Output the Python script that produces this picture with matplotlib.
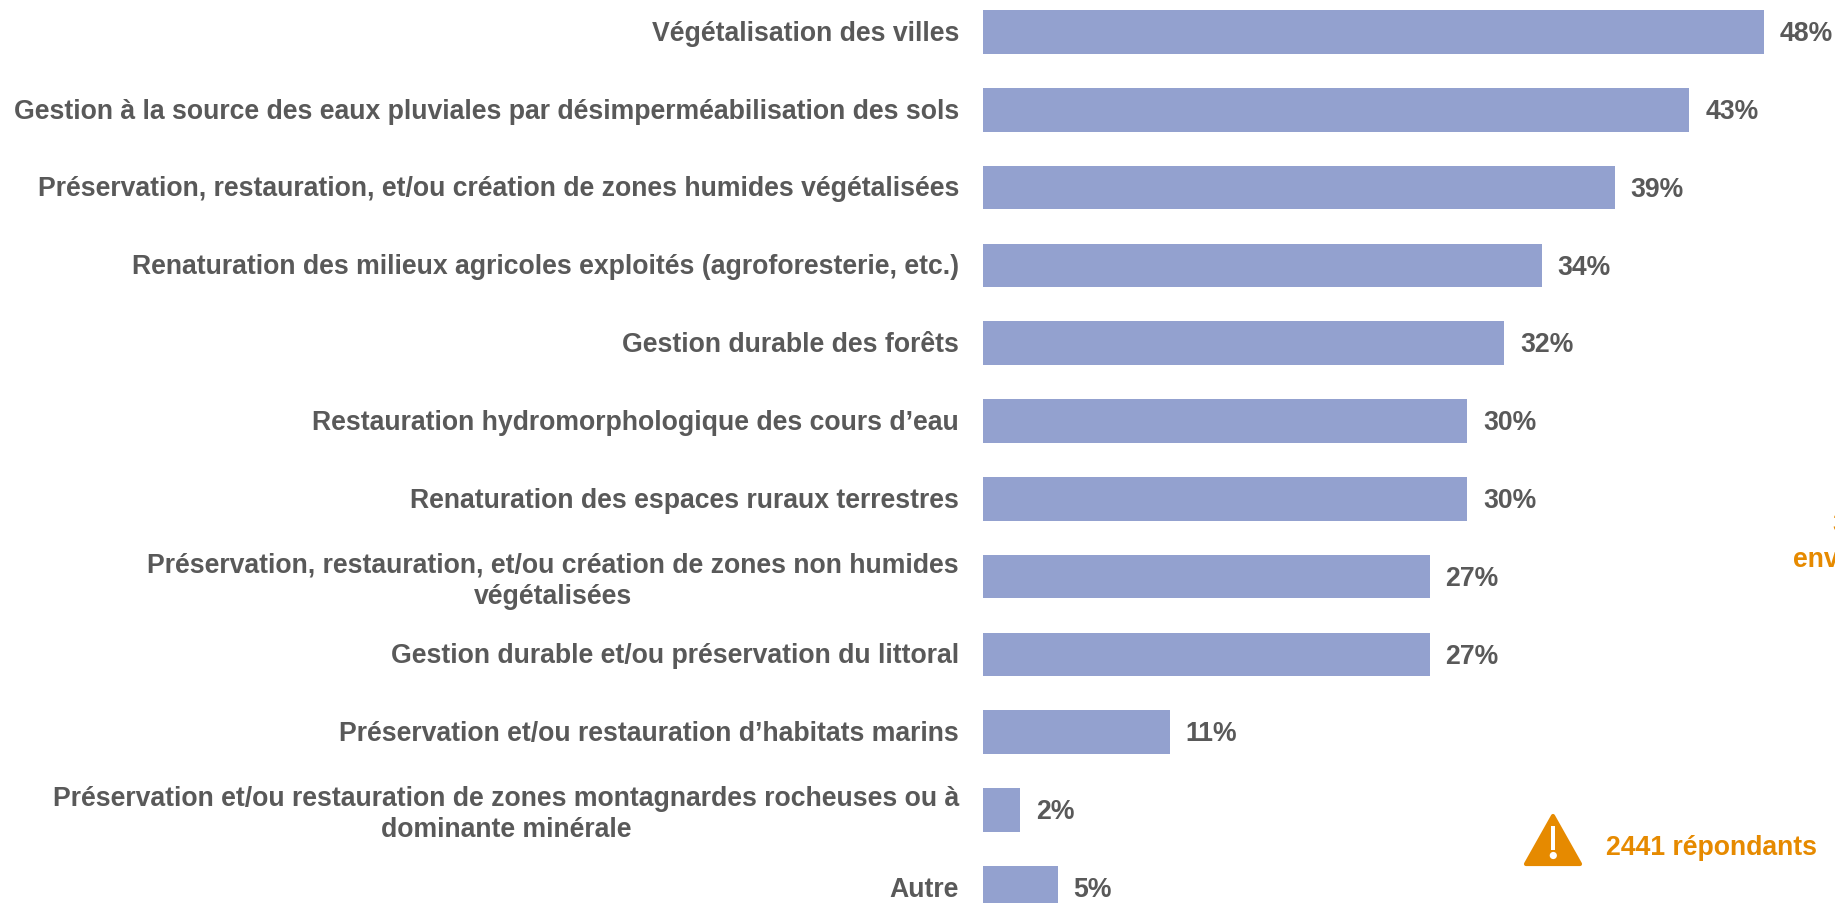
import matplotlib
matplotlib.use("Agg")
import matplotlib.pyplot as plt
from matplotlib.patches import Polygon, Circle, Rectangle
from matplotlib.transforms import Affine2D, ScaledTranslation

categories = [
    "Végétalisation des villes",
    "Gestion à la source des eaux pluviales par désimperméabilisation des sols",
    "Préservation, restauration, et/ou création de zones humides végétalisées",
    "Renaturation des milieux agricoles exploités (agroforesterie, etc.)",
    "Gestion durable des forêts",
    "Restauration hydromorphologique des cours d’eau",
    "Renaturation des espaces ruraux terrestres",
    "Préservation, restauration, et/ou création de zones non humides\nvégétalisées",
    "Gestion durable et/ou préservation du littoral",
    "Préservation et/ou restauration d’habitats marins",
    "Préservation et/ou restauration de zones montagnardes rocheuses ou à\ndominante minérale",
    "Autre",
]
bar_lengths = [48.1, 43.5, 38.9, 34.4, 32.1, 29.8, 29.8, 27.5, 27.5, 11.5, 2.3, 4.6]
value_labels = ["48%", "43%", "39%", "34%", "32%", "30%", "30%", "27%", "27%", "11%", "2%", "5%"]
note_text = "2441 répondants"

W, H = 1835, 904
GREY = "#595959"
BLUE = "#93A1CF"
ORANGE = "#E68A00"
FS = 19.2
plt.rcParams["font.family"] = ["Liberation Sans", "DejaVu Sans"]
plt.rcParams["font.weight"] = "bold"

fig = plt.figure(figsize=(W / 100, H / 100), dpi=100, facecolor="white")
px_per = 16.24
x0 = 983
y0, step = 33.0, 77.8
ax = fig.add_axes([x0 / W, 0, 1 - x0 / W, 1], facecolor="none")
ax.set_xlim(0, (W - x0) / px_per)
ax.set_ylim((H - y0) / step, -y0 / step)
ax.barh(range(len(bar_lengths)), bar_lengths, height=0.56, color=BLUE, linewidth=0)
for s in ax.spines.values():
    s.set_visible(False)
ax.tick_params(axis="x", bottom=False, labelbottom=False)
ax.tick_params(axis="y", left=False, pad=13.7, labelcolor=GREY, labelsize=FS)
ax.set_yticks(range(len(categories)))
ax.set_yticklabels(categories, fontweight="bold", multialignment="center", linespacing=1.26)
up = ScaledTranslation(0, 2.2 / 100, fig.dpi_scale_trans)
for lab in ax.get_yticklabels():
    lab.set_transform(lab.get_transform() + up)
for i, (v, lab) in enumerate(zip(bar_lengths, value_labels)):
    ax.annotate(lab, (v, i), xytext=(11.5, -0.8), textcoords="offset points", va="center", ha="left",
                color=GREY, fontsize=FS, fontweight="bold", annotation_clip=False)

pix = Affine2D().scale(1, -1).translate(0, H)
fig.add_artist(Polygon([(1526, 865), (1580, 865), (1553, 817)], closed=True, facecolor=ORANGE,
                       edgecolor=ORANGE, linewidth=3, joinstyle="round", transform=pix))
fig.add_artist(Rectangle((1551, 827), 4.4, 24, facecolor="white", edgecolor="none", transform=pix))
fig.add_artist(Circle((1553.3, 856.5), 3.6, facecolor="white", edgecolor="none", transform=pix))
fig.text(1606 / W, 1 - 848 / H, note_text, color=ORANGE, fontsize=FS, fontweight="bold", va="center", ha="left")
fig.text(1832 / W, 1 - 525 / H, "3", color=ORANGE, fontsize=FS, fontweight="bold", va="center", ha="left", clip_on=True)
fig.text(1793 / W, 1 - 560 / H, "env", color=ORANGE, fontsize=FS, fontweight="bold", va="center", ha="left", clip_on=True)
fig.savefig("out.png", dpi=100, facecolor="white")
